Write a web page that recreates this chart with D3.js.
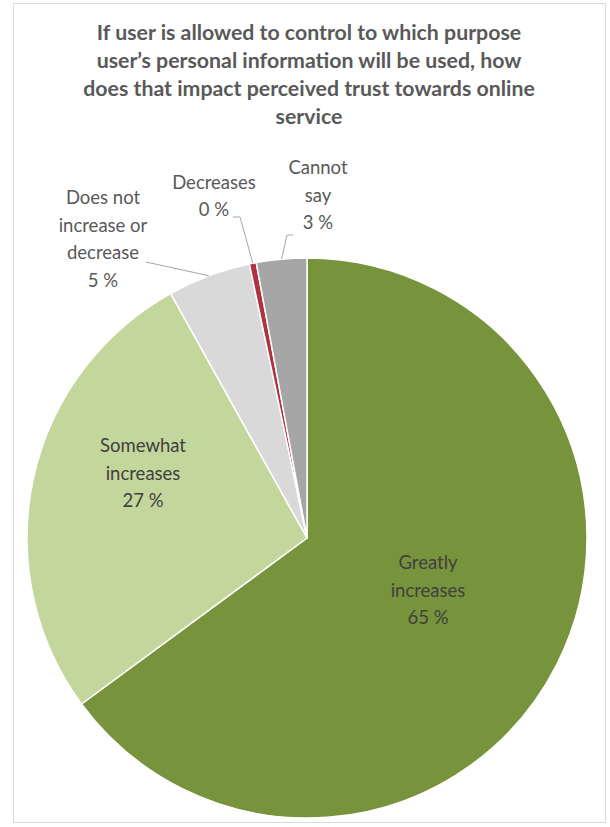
<!DOCTYPE html>
<html>
<head>
<meta charset="utf-8">
<script src="https://cdn.jsdelivr.net/npm/d3@7"></script>
<style>
  html, body { margin: 0; padding: 0; background: #ffffff; }
  svg { display: block; }
  text { font-family: Lato, "Open Sans", sans-serif; }
</style>
</head>
<body>
<svg id="chart" width="610" height="827"></svg>
<script>
// Survey answers, percent of respondents
const categories = [
  "Greatly increases",
  "Somewhat increases",
  "Does not increase or decrease",
  "Decreases",
  "Cannot say"
];
const shares = [64.9, 27.0, 4.8, 0.4, 2.9];
const sliceColors = ["#77933C", "#C3D69B", "#D9D9D9", "#B0313F", "#A6A6A6"];
const labelLines = [
  ["Greatly", "increases"],
  ["Somewhat", "increases"],
  ["Does not", "increase or", "decrease"],
  ["Decreases"],
  ["Cannot", "say"]
];
const titleLines = [
  "If user is allowed to control to which purpose",
  "user\u2019s personal information will be used, how",
  "does that impact perceived trust towards online",
  "service"
];

const data = categories.map((c, i) => ({ category: c, value: shares[i], lines: labelLines[i], color: sliceColors[i] }));

const svg = d3.select("#chart");

// chart frame
svg.append("rect")
  .attr("x", 13.5).attr("y", 3.5)
  .attr("width", 592).attr("height", 819)
  .attr("fill", "#ffffff")
  .attr("stroke", "#D9D9D9")
  .attr("stroke-width", 1);

// title
svg.append("g")
  .selectAll("text")
  .data(titleLines)
  .join("text")
  .attr("x", 309)
  .attr("y", (d, i) => 40 + i * 28)
  .attr("text-anchor", "middle")
  .attr("font-size", 21.3)
  .attr("font-weight", 700)
  .attr("fill", "#595959")
  .text(d => d);

const cx = 307, cy = 538, radius = 280;

const pie = d3.pie().sort(null).value(d => d.value).startAngle(0).endAngle(2 * Math.PI);
const arcs = pie(data);
const arc = d3.arc().innerRadius(0).outerRadius(radius);

const g = svg.append("g").attr("transform", `translate(${cx},${cy})`);

g.selectAll("path.slice")
  .data(arcs)
  .join("path")
  .attr("class", "slice")
  .attr("d", arc)
  .attr("fill", d => d.data.color)
  .attr("stroke", "#ffffff")
  .attr("stroke-width", 1.5)
  .attr("stroke-linejoin", "round");

const fmt = d3.format(".0f");
const lineH = 27.5;

// label placement: centre of the text block (relative to pie centre),
// and for outside labels the leader-line path from the rim
const layout = {
  "Greatly increases": { x: 121, y: 52, inside: true },
  "Somewhat increases": { x: -164, y: -65, inside: true },
  "Does not increase or decrease": { x: -204, y: -299, leader: [[-161, -276]] },
  "Decreases": { x: -93, y: -342, leader: [[-67, -321], [-74, -321]] },
  "Cannot say": { x: 11, y: -343, leader: [[-20, -303], [-14, -303]] }
};

arcs.forEach(a => {
  const L = layout[a.data.category];
  const lines = a.data.lines.concat([fmt(a.data.value) + " %"]);
  const n = lines.length;

  if (L.leader) {
    const mid = (a.startAngle + a.endAngle) / 2;
    const rim = [radius * Math.sin(mid), -radius * Math.cos(mid)];
    const pts = [rim].concat(L.leader);
    g.append("path")
      .attr("d", d3.line()(pts))
      .attr("fill", "none")
      .attr("stroke", "#A6A6A6")
      .attr("stroke-width", 1);
  }

  const t = g.append("text")
    .attr("text-anchor", "middle")
    .attr("font-size", 18.5)
    .attr("fill", L.inside ? "#404040" : "#595959");
  lines.forEach((s, i) => {
    t.append("tspan")
      .attr("x", L.x)
      .attr("y", L.y + (i - (n - 1) / 2) * lineH + 6.5)
      .text(s);
  });
});
</script>
</body>
</html>
